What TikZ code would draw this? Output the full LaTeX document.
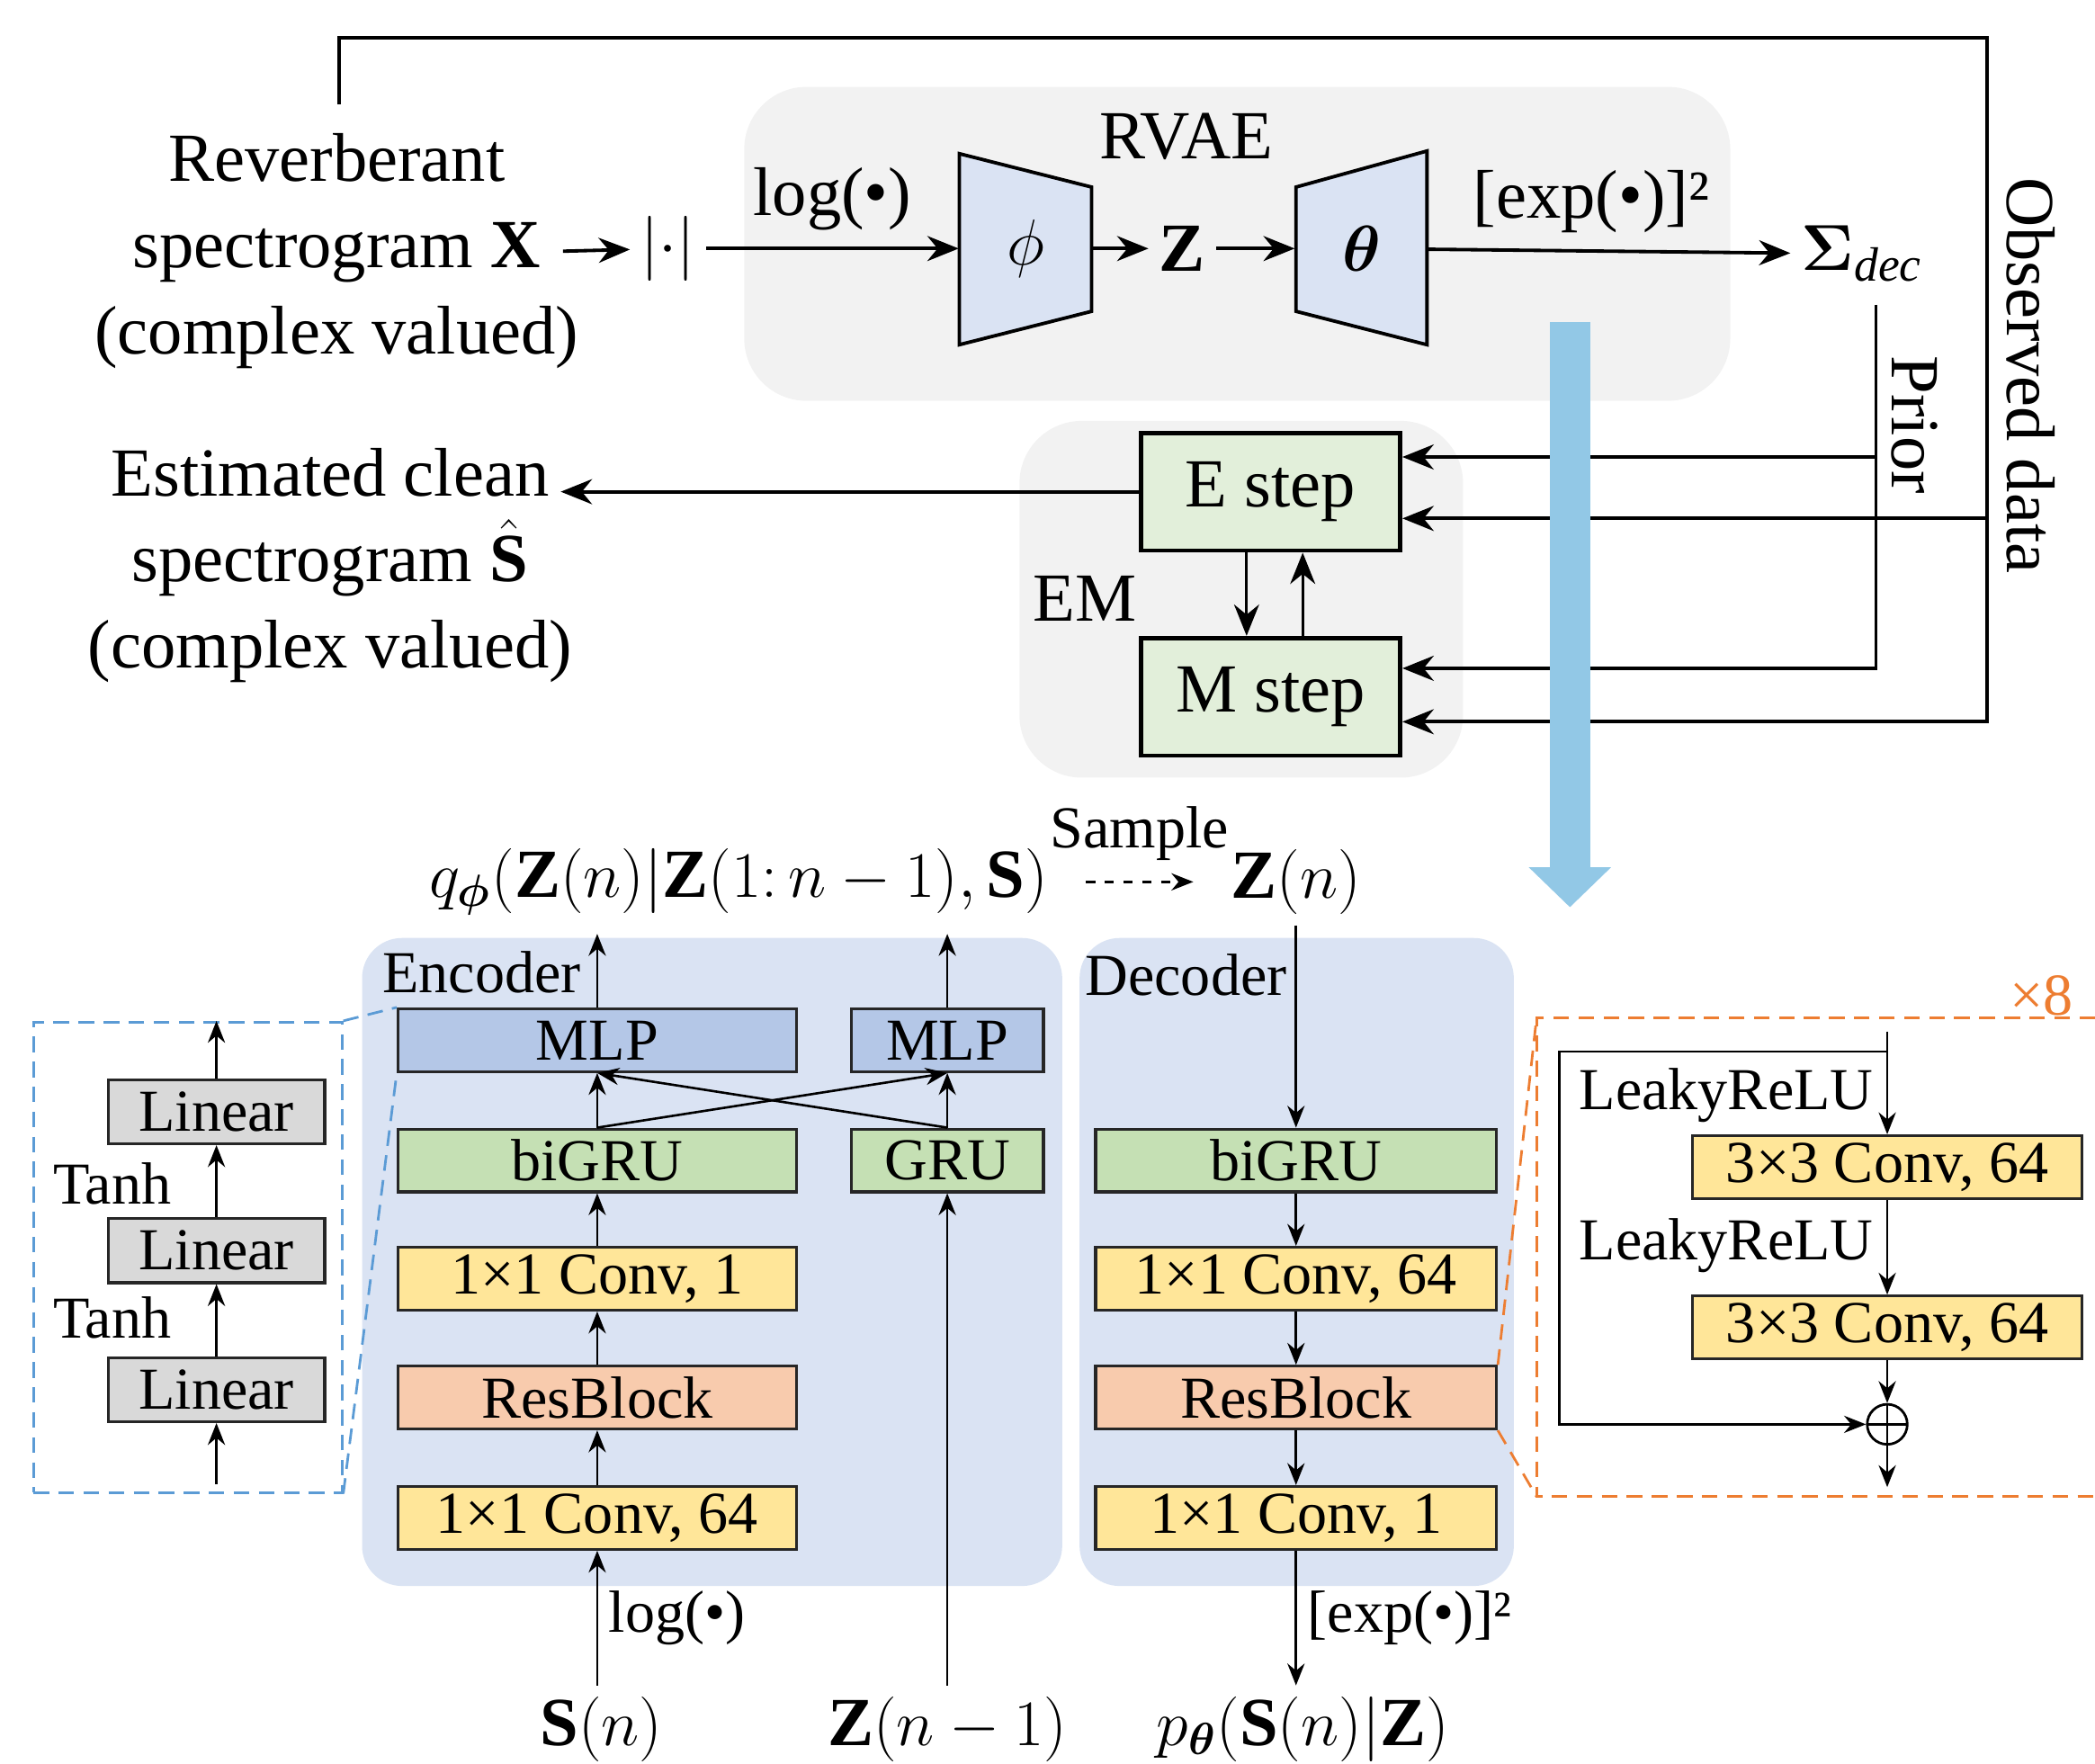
\documentclass[tikz,border=0pt]{standalone}
\usepackage{amsmath,bm}
\usepackage{fontspec}
\setmainfont{Liberation Serif}
\usepackage{xcolor}
\definecolor{panelgray}{RGB}{242,242,242}
\definecolor{paleblue}{RGB}{218,227,243}
\definecolor{stepgreen}{RGB}{226,239,218}
\definecolor{mlpblue}{RGB}{180,199,231}
\definecolor{grugreen}{RGB}{197,224,180}
\definecolor{convyellow}{RGB}{255,230,153}
\definecolor{ressalmon}{RGB}{248,203,173}
\definecolor{lingray}{RGB}{217,217,217}
\definecolor{skyarrow}{RGB}{146,200,230}
\definecolor{zoomblue}{RGB}{91,155,213}
\definecolor{zoomorange}{RGB}{237,125,49}
\usepackage{tikz}
\usetikzlibrary{arrows.meta,positioning,calc}
\newcommand{\bigtxt}{\fontsize{22}{27.5}\selectfont}
\newcommand{\smalltxt}{\fontsize{19}{23}\selectfont}
\tikzset{
  panel/.style={fill=panelgray, rounded corners=0.7cm},
  netpanel/.style={fill=paleblue, rounded corners=0.45cm},
  trap/.style={draw, line width=1.1pt, fill=paleblue},
  trapnode/.style={minimum width=1.485cm, minimum height=2.145cm, inner sep=0pt},
  stepbox/.style={draw, line width=1.4pt, fill=stepgreen,
    minimum width=2.91cm, minimum height=1.32cm, inner sep=0pt},
  arr/.style={line width=1.1pt, -{Stealth[length=10pt,width=8pt]}},
  larr/.style={line width=0.75pt, -{Stealth[length=7pt,width=5.5pt]}},
  layer/.style={draw=black!85, line width=0.9pt, minimum height=0.705cm,
    inner sep=0pt, font=\smalltxt},
  encwide/.style={layer, minimum width=4.47cm},
  encnarrow/.style={layer, minimum width=2.16cm},
  declayer/.style={layer, minimum width=4.5cm},
  linbox/.style={layer, minimum width=2.43cm, minimum height=0.72cm, fill=lingray},
  kbox/.style={layer, minimum width=4.365cm, fill=convyellow},
  zoomline/.style={line width=0.8pt, dash pattern=on 5pt off 3pt},
  small/.style={font=\smalltxt},
}

\begin{document}
\begin{tikzpicture}[x=0.015cm,y=-0.015cm,font=\bigtxt]
\useasboundingbox (0,0) rectangle (1568,1320);

% RVAE and EM
\fill[panel] (557,65) rectangle (1295,300);
\fill[panel] (763,315) rectangle (1095,582);
\node (rvae) at (888,102) {RVAE};
\node[align=center] (rev) at (252,188) {Reverberant\\spectrogram \textbf{X}\\(complex valued)};
\node (abs) at (500,186) {$|{\cdot}|$};
\draw[trap] (718,115) -- (817,140) -- (817,233) -- (718,258) -- cycle;
\node[trapnode] (enc) at (767.5,186) {$\phi$};
\node (zz) at (885,186) {$\mathbf{Z}$};
\draw[trap] (970,140) -- (1068,113) -- (1068,258) -- (970,233) -- cycle;
\node[trapnode] (dec) at (1019,186) {$\bm{\theta}$};
\node[anchor=west] (sig) at (1340,190) {$\bm{\Sigma}_{\text{\itshape dec}}$};

\draw[arr] ([xshift=-0.3cm]rev.east) -- (abs);
\draw[arr] (abs) -- node[above=2pt]{log(•)} (enc);
\draw[arr] (enc) -- (zz);
\draw[arr] (zz) -- (dec);
\draw[arr] (dec) -- node[above=2pt,pos=0.45]{[exp(•)]²} (sig);

\node[stepbox] (estep) at (951,368) {E step};
\node[stepbox] (mstep) at (951,521.5) {M step};
\node (em) at (812,448) {EM};
\draw[arr,line width=0.8pt] ([xshift=-0.27cm]estep.south) -- ([xshift=-0.27cm]mstep.north);
\draw[arr,line width=0.8pt] ([xshift=0.36cm]mstep.north) -- ([xshift=0.36cm]estep.south);

\node[align=center] (est) at (247,423) {Estimated clean\\spectrogram $\hat{\mathbf{S}}$\\(complex valued)};
\draw[arr] (estep.west) -- ([xshift=-0.25cm]estep.west -| est.east);

\coordinate (obs0) at (254,78);
\coordinate (obsc) at (1487,28);
\coordinate (pr0) at (1404,228);
\coordinate (e1) at ([yshift=0.39cm]estep.east);
\coordinate (e2) at ([yshift=-0.3cm]estep.east);
\coordinate (m1) at ([yshift=0.32cm]mstep.east);
\coordinate (m2) at ([yshift=-0.28cm]mstep.east);
\draw[arr] (obs0) |- (obsc) |- (m2);
\draw[arr] (e2 -| obsc) -- (e2);
\draw[arr] (pr0) |- (m1);
\draw[arr] (e1 -| pr0) -- (e1);
\node[rotate=-90] (obsl) at (1520,281) {Observed data};
\node[rotate=-90] (priorl) at (1433,318) {Prior};

\coordinate (bluetop) at (1175,241);
\coordinate (bluetip) at (1175,679);
\draw[skyarrow, line width=0.45cm, -{Triangle[width=0.9cm,length=0.45cm]}] (bluetop) -- (bluetip);

% encoder / decoder
\fill[netpanel] (271,702) rectangle (795,1187);
\fill[netpanel] (808,702) rectangle (1133,1187);
\node[small, anchor=west] (encl) at (278,728) {Encoder};
\node[small, anchor=west] (decl) at (804,730) {Decoder};

\node[encwide, fill=mlpblue] (mlp1) at (447,778.5) {MLP};
\node[encwide, fill=grugreen] (bigru) at (447,868.5) {biGRU};
\node[encwide, fill=convyellow] (conva) at (447,957) {1×1 Conv, 1};
\node[encwide, fill=ressalmon] (resa) at (447,1046) {ResBlock};
\node[encwide, fill=convyellow] (convb) at (447,1136) {1×1 Conv, 64};
\node[encnarrow, fill=mlpblue] (mlp2) at (709,778.5) {MLP};
\node[encnarrow, fill=grugreen] (gru) at (709,868.5) {GRU};

\node[declayer, fill=grugreen] (dgru) at (970,868.5) {biGRU};
\node[declayer, fill=convyellow] (dconva) at (970,957) {1×1 Conv, 64};
\node[declayer, fill=ressalmon] (dres) at (970,1046) {ResBlock};
\node[declayer, fill=convyellow] (dconvb) at (970,1136) {1×1 Conv, 1};

\node (qenc) at (553,660) {$q_{\bm{\phi}}(\mathbf{Z}(n)|\mathbf{Z}(1{:}\,n-1),\mathbf{S})$};
\node (zn) at (970,660) {$\mathbf{Z}(n)$};
\draw[larr, dashed, shorten <=0.3cm, shorten >=0.3cm] (qenc) -- node[small, above=3pt]{Sample} (zn);
\node (sn) at (450,1294) {$\mathbf{S}(n)$};
\node (zprev) at (709,1294) {$\mathbf{Z}(n-1)$};
\node (pdec) at (975,1294) {$p_{\bm{\theta}}(\mathbf{S}(n)|\mathbf{Z})$};

\draw[larr] (sn.north -| convb) -- node[small, right]{log(•)} (convb);
\draw[larr] (convb) -- (resa);
\draw[larr] (resa) -- (conva);
\draw[larr] (conva) -- (bigru);
\draw[larr] (bigru) -- (mlp1);
\draw[larr] (mlp1.north) -- ++(0,-55);
\draw[larr] (zprev) -- (gru);
\draw[larr] (gru) -- (mlp2);
\draw[larr] (mlp2.north) -- ++(0,-55);
\draw[larr] (bigru.north) -- (mlp2.south);
\draw[larr] (gru.north) -- (mlp1.south);

\draw[larr] (zn) -- (dgru);
\draw[larr] (dgru) -- (dconva);
\draw[larr] (dconva) -- (dres);
\draw[larr] (dres) -- (dconvb);
\draw[larr] (dconvb) -- node[small, right]{[exp(•)]²} (dconvb.south |- pdec.north);

% MLP detail
\node[draw=zoomblue, zoomline, minimum width=3.465cm, minimum height=5.28cm, inner sep=0pt] (lzoom) at (140.5,941) {};
\node[linbox] (lin1) at (162,1040) {Linear};
\node[linbox] (lin2) at (162,936) {Linear};
\node[linbox] (lin3) at (162,832) {Linear};
\node[small] (tanh1) at (84,986) {Tanh};
\node[small] (tanh2) at (84,886) {Tanh};
\draw[larr] ([yshift=3pt]lzoom.south -| lin1) -- (lin1);
\draw[larr] (lin1) -- (lin2);
\draw[larr] (lin2) -- (lin3);
\draw[larr] (lin3) -- (lin3 |- lzoom.north);
\draw[zoomblue, zoomline] (lzoom.north east) -- (mlp1.north west);
\draw[zoomblue, zoomline] (lzoom.south east) -- (mlp1.south west);

% ResBlock detail
\coordinate (rtl) at (1150,762);
\coordinate (rbl) at (1150,1120);
\draw[zoomorange, zoomline] (1568,762) -- (rtl) -- (rbl) -- (1568,1120);
\draw[zoomorange, zoomline] (dres.north east) -- (rtl);
\draw[zoomorange, zoomline] (dres.south east) -- (rbl);
\node[small, text=zoomorange] (times8) at (1528,745) {×8};

\node[kbox] (k1) at (1412.5,873.5) {3×3 Conv, 64};
\node[kbox] (k2) at (1412.5,993.5) {3×3 Conv, 64};
\node[small] (lr1) at (1292,820) {LeakyReLU};
\node[small] (lr2) at (1292,932) {LeakyReLU};
\node[circle, draw, line width=0.8pt, minimum size=0.45cm, inner sep=0pt,
  path picture={\draw[line width=0.8pt] (path picture bounding box.north) -- (path picture bounding box.south)
    (path picture bounding box.west) -- (path picture bounding box.east);}] (add) at (1412.5,1066) {};
\coordinate (rin) at (1412.5,772);
\coordinate (skip) at (1167,787);
\draw[larr] (rin) -- (k1);
\draw[larr] (rin |- skip) -- (skip) |- (add);
\draw[larr] (k1) -- (k2);
\draw[larr] (k2) -- (add);
\draw[larr] (add) -- ++(0,47);
\end{tikzpicture}
\end{document}
